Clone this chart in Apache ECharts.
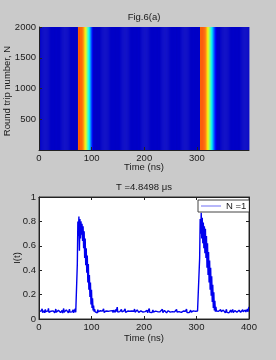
<!DOCTYPE html>
<html>
<head>
<meta charset="utf-8">
<script src="https://cdn.jsdelivr.net/npm/echarts@6/dist/echarts.min.js"></script>
<style>
html,body{margin:0;padding:0;background:#cacaca;}
#c{width:276px;height:360px;}
</style>
</head>
<body>
<div id="c"></div>
<script>
// ---------- DATA ----------
// Top panel: round-trip range and mean intensity per 2 ns time bin (colour value, 0..1 jet scale)
const roundTripRange = [0, 2000];
const stripeBinNs = 2;
const stripeProfile = [
  .07,.068,.072,.07,.069,.071,.07,.068,.07,.072,
  .07,.069,.07,.071,.068,.07,.072,.07,.069,.07,
  .071,.07,.068,.07,.072,.069,.07,.071,.07,.068,
  .07,.072,.069,.07,.07,.071,.07,.78,.79,.78,
  .78,.76,.72,.66,.6,.52,.44,.37,.3,.22,
  .14,.08,.07,.072,.069,.07,.071,.07,.068,.07,
  .07,.069,.071,.07,.068,.07,.072,.07,.069,.07,
  .071,.07,.068,.07,.07,.069,.072,.07,.07,.071,
  .07,.068,.07,.072,.069,.07,.071,.07,.068,.07,
  .07,.071,.069,.07,.072,.07,.068,.07,.071,.07,
  .069,.07,.072,.07,.068,.07,.071,.069,.07,.07,
  .072,.07,.069,.071,.07,.068,.07,.07,.071,.069,
  .07,.072,.07,.068,.07,.071,.069,.07,.07,.072,
  .068,.07,.071,.07,.069,.07,.072,.07,.068,.07,
  .07,.069,.071,.07,.07,.068,.072,.07,.069,.07,
  .07,.071,.07,.78,.79,.79,.78,.77,.74,.68,
  .62,.55,.48,.41,.34,.27,.2,.14,.09,.07,
  .07,.069,.072,.07,.068,.07,.071,.07,.069,.07,
  .071,.07,.068,.07,.072,.069,.07,.07,.071,.068,
  .07,.072,.069,.07,.071,.07,.068,.07,.07,.071
];
// Bottom panel: I(t) sampled every 1 ns, 0..400 ns, for N = 1
const traceStepNs = 1;
const traceI = [
  .062,.055,.071,.05,.066,.058,.083,.052,.064,.057,
  .069,.051,.078,.06,.055,.072,.049,.066,.087,.054,
  .061,.07,.052,.064,.058,.079,.053,.067,.056,.074,
  .05,.065,.082,.055,.062,.069,.051,.072,.059,.063,
  .078,.053,.066,.057,.071,.049,.064,.086,.055,.061,
  .068,.052,.075,.06,.057,.07,.05,.063,.081,.056,
  .065,.054,.072,.058,.062,.076,.051,.067,.059,.084,
  .055,.063,.058,.45,.8,.68,.84,.56,.82,.66,
  .8,.69,.78,.64,.76,.58,.72,.5,.66,.44,
  .58,.38,.52,.3,.45,.24,.36,.18,.3,.12,
  .24,.09,.17,.07,.11,.06,.08,.058,.072,.054,
  .066,.05,.077,.059,.063,.071,.052,.068,.057,.074,
  .053,.065,.06,.083,.055,.062,.07,.051,.066,.058,
  .076,.054,.063,.059,.071,.05,.067,.08,.056,.062,
  .069,.052,.073,.058,.064,.055,.078,.06,.053,.098,
  .057,.066,.051,.072,.06,.064,.054,.079,.058,.063,
  .07,.05,.067,.057,.084,.055,.062,.069,.052,.065,
  .059,.073,.054,.063,.06,.077,.051,.066,.058,.071,
  .053,.064,.082,.056,.061,.068,.05,.074,.059,.063,
  .055,.07,.06,.052,.066,.079,.054,.062,.057,.069,
  .051,.065,.06,.076,.055,.063,.071,.05,.067,.058,
  .086,.054,.062,.059,.07,.052,.066,.074,.056,.061,
  .068,.053,.064,.058,.077,.055,.06,.069,.051,.065,
  .058,.072,.054,.063,.06,.08,.052,.066,.057,.07,
  .055,.062,.075,.05,.064,.059,.068,.054,.083,.061,
  .056,.069,.052,.065,.06,.074,.053,.063,.058,.071,
  .05,.066,.078,.057,.062,.055,.07,.06,.053,.064,
  .076,.054,.061,.068,.051,.065,.058,.072,.056,.063,
  .06,.081,.053,.066,.057,.069,.052,.064,.059,.073,
  .055,.062,.07,.05,.067,.058,.075,.054,.063,.06,
  .068,.052,.065,.057,.079,.06,.5,.82,.7,.87,
  .66,.83,.62,.79,.58,.76,.54,.74,.5,.68,
  .42,.62,.36,.55,.3,.48,.24,.42,.19,.35,
  .14,.28,.09,.22,.07,.15,.06,.1,.065,.055,
  .071,.05,.064,.058,.069,.053,.077,.06,.055,.066,
  .052,.073,.061,.057,.068,.05,.064,.08,.054,.062,
  .058,.07,.051,.066,.059,.074,.055,.063,.06,.078,
  .052,.065,.057,.069,.054,.062,.083,.056,.061,.067,
  .05,.072,.058,.064,.055,.07,.06,.053,.076,.059,
  .063,.068,.052,.074,.057,.065,.06,.082,.058,.07,
  .1
];
const legendLabel = 'N =1';
const topTitle = 'Fig.6(a)';
const bottomTitle = 'T =4.8498 \u03bcs';
const xName = 'Time (ns)';
const topYName = 'Round trip number, N';
const bottomYName = 'I(t)';
const jet = ['#000080','#0000ff','#0080ff','#00ffff','#80ff80','#ffff00','#ff8000','#ff0000','#800000'];

// ---------- BUILD ----------
const TOP_XMAX = 399;
const heatData = stripeProfile.map((v, i) => {
  const t0 = i * stripeBinNs;
  const t1 = Math.min(t0 + stripeBinNs, TOP_XMAX);
  return [t0, t1, roundTripRange[0], roundTripRange[1], v];
});
const lineData = traceI.map((v, i) => [i * traceStepNs, v]);

const FONT = '"Liberation Sans", Arial, sans-serif';
const FS = 9.5;
const TXT = '#1a1a1a';
const plain = v => String(v);

function axisCommon(extra) {
  return Object.assign({
    type: 'value',
    z: 10,
    axisLine: { show: true, onZero: false, lineStyle: { color: '#222', width: 1 } },
    axisTick: { show: true, inside: true, length: 3, lineStyle: { color: '#222' } },
    axisLabel: { color: TXT, fontFamily: FONT, fontSize: FS, margin: 3, formatter: plain },
    splitLine: { show: false }
  }, extra);
}

const chart = echarts.init(document.getElementById('c'), null, { renderer: 'canvas' });
chart.setOption({
  backgroundColor: '#cacaca',
  animation: false,
  grid: [
    { left: 39, top: 27, width: 210, height: 123, show: false },
    { left: 39, top: 197, width: 210, height: 122, show: true, backgroundColor: '#ffffff', borderColor: '#333', borderWidth: 1 }
  ],
  xAxis: [
    axisCommon({ gridIndex: 0, min: 0, max: TOP_XMAX, interval: 100,
      axisLabel: { color: TXT, fontFamily: FONT, fontSize: FS, margin: 3, formatter: plain, showMaxLabel: false } }),
    axisCommon({ gridIndex: 1, min: 0, max: 400, interval: 100 }),
    axisCommon({ gridIndex: 1, min: 0, max: 400, interval: 100, position: 'top', axisLabel: { show: false } })
  ],
  yAxis: [
    axisCommon({ gridIndex: 0, min: roundTripRange[0], max: roundTripRange[1], interval: 500,
      axisLabel: { color: TXT, fontFamily: FONT, fontSize: FS, margin: 3, formatter: plain, showMinLabel: false } }),
    axisCommon({ gridIndex: 1, min: 0, max: 1, interval: 0.2 }),
    axisCommon({ gridIndex: 1, min: 0, max: 1, interval: 0.2, position: 'right', axisLabel: { show: false } })
  ],
  visualMap: {
    show: false, type: 'continuous', seriesIndex: 0, dimension: 4,
    min: 0, max: 1, inRange: { color: jet }
  },
  legend: {
    show: true, left: 198, top: 200, orient: 'horizontal',
    data: [{ name: legendLabel, icon: 'rect' }],
    itemWidth: 20, itemHeight: 1, itemGap: 4,
    padding: [1, 3, 1, 3],
    backgroundColor: '#ffffff', borderColor: '#444', borderWidth: 1,
    itemStyle: { color: '#6f6ff5' },
    textStyle: { color: TXT, fontFamily: FONT, fontSize: FS }
  },
  series: [
    {
      type: 'custom',
      xAxisIndex: 0, yAxisIndex: 0,
      encode: { x: [0, 1], y: [2, 3] },
      data: heatData,
      renderItem: function (params, api) {
        const a = api.coord([api.value(0), api.value(3)]);
        const b = api.coord([api.value(1), api.value(2)]);
        return {
          type: 'rect',
          shape: { x: a[0], y: a[1], width: b[0] - a[0] + 0.4, height: b[1] - a[1] },
          style: { fill: api.visual('color') }
        };
      }
    },
    {
      type: 'line', name: legendLabel,
      xAxisIndex: 1, yAxisIndex: 1,
      data: lineData,
      showSymbol: false, symbol: 'none',
      lineStyle: { color: '#0000ee', width: 1.4 },
      itemStyle: { color: '#0000ee' }
    }
  ],
  graphic: [
    { type: 'text', x: 144, y: 17, style: { text: topTitle, fill: TXT, font: FS + 'px ' + FONT, textAlign: 'center', textVerticalAlign: 'middle' } },
    { type: 'text', x: 144, y: 167, style: { text: xName, fill: TXT, font: FS + 'px ' + FONT, textAlign: 'center', textVerticalAlign: 'middle' } },
    { type: 'text', x: 7.5, y: 91, rotation: Math.PI / 2, style: { text: topYName, fill: TXT, font: FS + 'px ' + FONT, textAlign: 'center', textVerticalAlign: 'middle' } },
    { type: 'text', x: 144, y: 187, style: { text: bottomTitle, fill: TXT, font: FS + 'px ' + FONT, textAlign: 'center', textVerticalAlign: 'middle' } },
    { type: 'text', x: 144, y: 338, style: { text: xName, fill: TXT, font: FS + 'px ' + FONT, textAlign: 'center', textVerticalAlign: 'middle' } },
    { type: 'text', x: 17, y: 258, rotation: Math.PI / 2, style: { text: bottomYName, fill: TXT, font: FS + 'px ' + FONT, textAlign: 'center', textVerticalAlign: 'middle' } }
  ]
});
</script>
</body>
</html>
